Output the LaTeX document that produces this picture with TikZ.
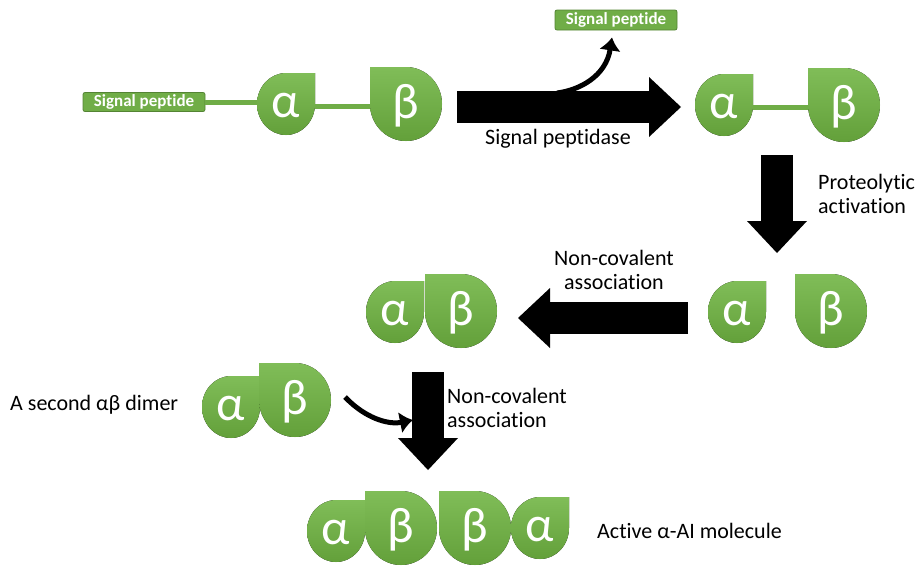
\documentclass[tikz,border=0pt]{standalone}
\usepackage{fontspec}
\setmainfont{Carlito}[Ligatures=NoCommon]
\usetikzlibrary{arrows.meta,positioning}
\definecolor{LeafGreen}{RGB}{112,173,71}
\definecolor{LeafLight}{RGB}{128,189,88}
\definecolor{LeafDark}{RGB}{99,160,58}
\definecolor{LeafEdge}{RGB}{84,132,52}

\tikzset{
  unit/.style={top color=LeafLight,bottom color=LeafDark,draw=none},
  unitlabel/.style={inner sep=0pt,text=white,font=\fontsize{50}{50}\selectfont},
  sigbox/.style={draw=LeafEdge,fill=LeafGreen,rounded corners=2pt,line width=0.8pt,
    text=white,font=\bfseries\fontsize{17}{17}\selectfont,
    minimum width=122pt,minimum height=19pt,inner sep=0pt},
  link/.style={LeafGreen,line width=5pt},
  bigarrow/.style={line width=32pt,-{Triangle[length=32pt,width=60pt,line width=0pt]}},
  bendarrow/.style={line width=5pt,-{Latex[length=13pt,width=22pt]}},
  caption/.style={font=\fontsize{22}{24.5}\selectfont,inner sep=0pt}
}

% alpha subunit: square corner at top right
\newcommand{\alphaunit}[3]{%
  \fill[unit] (#2+29,#3-31) -- (#2,#3-31)
    arc[start angle=270,end angle=0,x radius=29,y radius=31] -- cycle;
  \node[unitlabel,minimum width=58pt,minimum height=62pt] (#1) at (#2,#3+2) {α};
}
% beta subunit: square corner at top left
\newcommand{\betaunit}[3]{%
  \fill[unit] (#2-36,#3-37) -- (#2,#3-37)
    arc[start angle=270,end angle=540,x radius=36,y radius=37] -- cycle;
  \node[unitlabel,minimum width=72pt,minimum height=74pt] (#1) at (#2,#3+2) {β};
}

\begin{document}
\begin{tikzpicture}[x=1pt,y=-1pt]
  \useasboundingbox (0,0) rectangle (918,566);

  % precursor
  \node[sigbox] (sp1) at (144,102) {Signal peptide};
  \alphaunit{a1}{286}{104}
  \betaunit{b1}{406}{104}
  \draw[link] (sp1.east) -- (sp1.east -| a1.west);
  \draw[link] (a1.east) -- (b1.west);

  % signal peptidase
  \coordinate (s1) at (457,107);
  \coordinate (t1) at (681,107);
  \coordinate (cut) at (557,93);
  \node[sigbox,minimum height=20pt] (sp2) at (616,20) {Signal peptide};
  \draw[bendarrow] (cut) .. controls (580,90) and (606,76) .. ([shift={(-4,7)}]sp2.south);
  \draw[bigarrow] (s1) -- (t1);
  \node[caption] (peptidase) at (558,139) {Signal peptidase};

  \alphaunit{a2}{724}{105}
  \betaunit{b2}{844}{105}
  \draw[link] (a2.east) -- (b2.west);

  % proteolytic activation
  \coordinate (s2) at (777,155);
  \coordinate (t2) at (777,253);
  \draw[bigarrow] (s2) -- (t2);
  \node[caption,anchor=west,align=left] (proteo) at (818,194) {Proteolytic\\activation};

  \alphaunit{a3}{737}{312}
  \betaunit{b3}{831}{311}

  % first dimer
  \coordinate (s3) at (688,318);
  \coordinate (t3) at (518,318);
  \draw[bigarrow] (s3) -- (t3);
  \node[caption,align=center] (assoc1) at (614,270) {Non-covalent\\association};

  \alphaunit{a4}{395}{312}
  \betaunit{b4}{461}{311}

  % second dimer
  \node[caption,anchor=west] (second) at (10,405) {A second αβ dimer};
  \alphaunit{a5}{231}{407}
  \betaunit{b5}{295}{400}

  \coordinate (join) at (345,397);
  \coordinate (hit) at (413,420);
  \coordinate (s4) at (428,372);
  \coordinate (t4) at (428,470);
  \draw[bendarrow] (join) .. controls (365,418) and (388,425) .. (hit);
  \draw[bigarrow] (s4) -- (t4);
  \node[caption,anchor=west,align=left] (assoc2) at (447,408) {Non-covalent\\association};

  % active molecule
  \alphaunit{a6}{336}{531}
  \betaunit{b6}{401}{528}
  \betaunit{b7}{475}{528}
  \alphaunit{a7}{540}{528}
  \node[caption,anchor=west] (active) at (597,531) {Active α-AI molecule};
\end{tikzpicture}
\end{document}
